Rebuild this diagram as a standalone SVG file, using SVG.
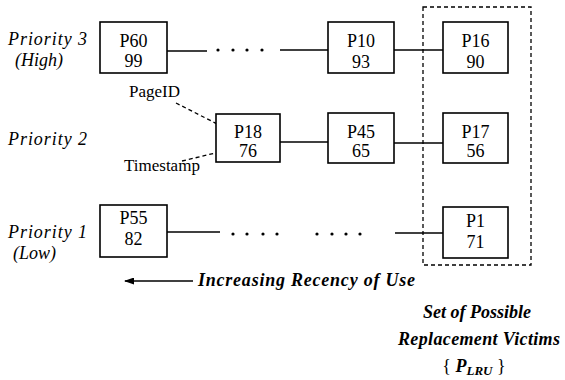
<svg xmlns="http://www.w3.org/2000/svg" width="565" height="380" viewBox="0 0 565 380">
<style>
.box{fill:#fff;stroke:#000;stroke-width:1.6}
.nt{font-family:"Liberation Serif",serif;font-size:18px;text-anchor:middle;fill:#000}
.lbl{font-family:"Liberation Serif",serif;font-size:18px;font-style:italic;fill:#000}
.bi{font-family:"Liberation Serif",serif;font-size:18px;font-style:italic;font-weight:bold;fill:#000}
.sm{font-family:"Liberation Serif",serif;font-size:17px;fill:#000}
.ln{stroke:#000;stroke-width:1.4;fill:none}
.dash{stroke:#000;stroke-width:1.3;fill:none;stroke-dasharray:4,3}
.dot{fill:#000}
</style>
<defs>
<marker id="ah" markerWidth="10" markerHeight="7" refX="9" refY="3.5" orient="auto" markerUnits="userSpaceOnUse">
<path d="M0,0 L10,3.5 L0,7 z" fill="#000"/>
</marker>
</defs>
<g id="labels">
<text class="lbl" x="8" y="45" textLength="79" lengthAdjust="spacing">Priority 3</text>
<text class="lbl" x="15" y="66">(High)</text>
<text class="lbl" x="8" y="145" textLength="79" lengthAdjust="spacing">Priority 2</text>
<text class="lbl" x="8" y="238" textLength="79" lengthAdjust="spacing">Priority 1</text>
<text class="lbl" x="13" y="259">(Low)</text>
<text class="sm" x="129" y="97">PageID</text>
<text class="sm" x="124" y="171">Timestamp</text>
</g>
<g id="connectors">
<line class="ln" x1="167" y1="51" x2="207" y2="51"/>
<circle class="dot" cx="218" cy="50" r="1.6"/><circle class="dot" cx="233" cy="50" r="1.6"/><circle class="dot" cx="247" cy="50" r="1.6"/><circle class="dot" cx="262" cy="50" r="1.6"/>
<line class="ln" x1="280" y1="50" x2="328" y2="50"/>
<line class="ln" x1="394" y1="50" x2="443" y2="50"/>
<line class="ln" x1="280" y1="142" x2="328" y2="142"/>
<line class="ln" x1="394" y1="143" x2="443" y2="143"/>
<line class="ln" x1="167" y1="232" x2="220" y2="232"/>
<circle class="dot" cx="233" cy="234" r="1.6"/><circle class="dot" cx="247" cy="234" r="1.6"/><circle class="dot" cx="263" cy="234" r="1.6"/><circle class="dot" cx="277" cy="234" r="1.6"/>
<circle class="dot" cx="317" cy="234" r="1.6"/><circle class="dot" cx="332" cy="234" r="1.6"/><circle class="dot" cx="346" cy="234" r="1.6"/><circle class="dot" cx="360" cy="234" r="1.6"/>
<line class="ln" x1="395" y1="233" x2="443" y2="233"/>
<line class="dash" x1="176" y1="103" x2="229" y2="130"/>
<line class="dash" x1="182" y1="161" x2="228" y2="150"/>
<line class="ln" x1="193" y1="281" x2="125" y2="281" stroke-width="2.2" marker-end="url(#ah)"/>
<rect class="dash" x="423" y="7" width="108" height="258" stroke-width="1.5"/>
</g>
<g id="n-p60"><rect class="box" x="100" y="22" width="67" height="51"/><text class="nt" x="133.5" y="47">P60</text><text class="nt" x="133.5" y="67">99</text></g>
<g id="n-p10"><rect class="box" x="328" y="22" width="66" height="51"/><text class="nt" x="361" y="47">P10</text><text class="nt" x="361" y="68">93</text></g>
<g id="n-p16"><rect class="box" x="443" y="22" width="65" height="51"/><text class="nt" x="475.5" y="47">P16</text><text class="nt" x="475.5" y="68">90</text></g>
<g id="n-p18"><rect class="box" x="216" y="114" width="64" height="48"/><text class="nt" x="248" y="138">P18</text><text class="nt" x="248" y="157">76</text></g>
<g id="n-p45"><rect class="box" x="328" y="113" width="66" height="50"/><text class="nt" x="361" y="138">P45</text><text class="nt" x="361" y="157">65</text></g>
<g id="n-p17"><rect class="box" x="443" y="113" width="65" height="50"/><text class="nt" x="475.5" y="138">P17</text><text class="nt" x="475.5" y="157">56</text></g>
<g id="n-p55"><rect class="box" x="100" y="205" width="67" height="52"/><text class="nt" x="133.5" y="224">P55</text><text class="nt" x="133.5" y="245">82</text></g>
<g id="n-p1"><rect class="box" x="443" y="207" width="65" height="51"/><text class="nt" x="475.5" y="227">P1</text><text class="nt" x="475.5" y="248">71</text></g>
<g id="captions">
<text class="bi" x="198" y="286" textLength="217" lengthAdjust="spacing">Increasing Recency of Use</text>
<text class="bi" x="477" y="318" text-anchor="middle">Set of Possible</text>
<text class="bi" x="479" y="345" text-anchor="middle" textLength="162" lengthAdjust="spacing">Replacement Victims</text>
<text class="bi" x="474" y="372" text-anchor="middle"><tspan font-style="normal" font-weight="normal">{ </tspan>P<tspan font-size="13" dy="3">LRU</tspan><tspan dy="-3" font-style="normal" font-weight="normal">  }</tspan></text>
</g>
</svg>
